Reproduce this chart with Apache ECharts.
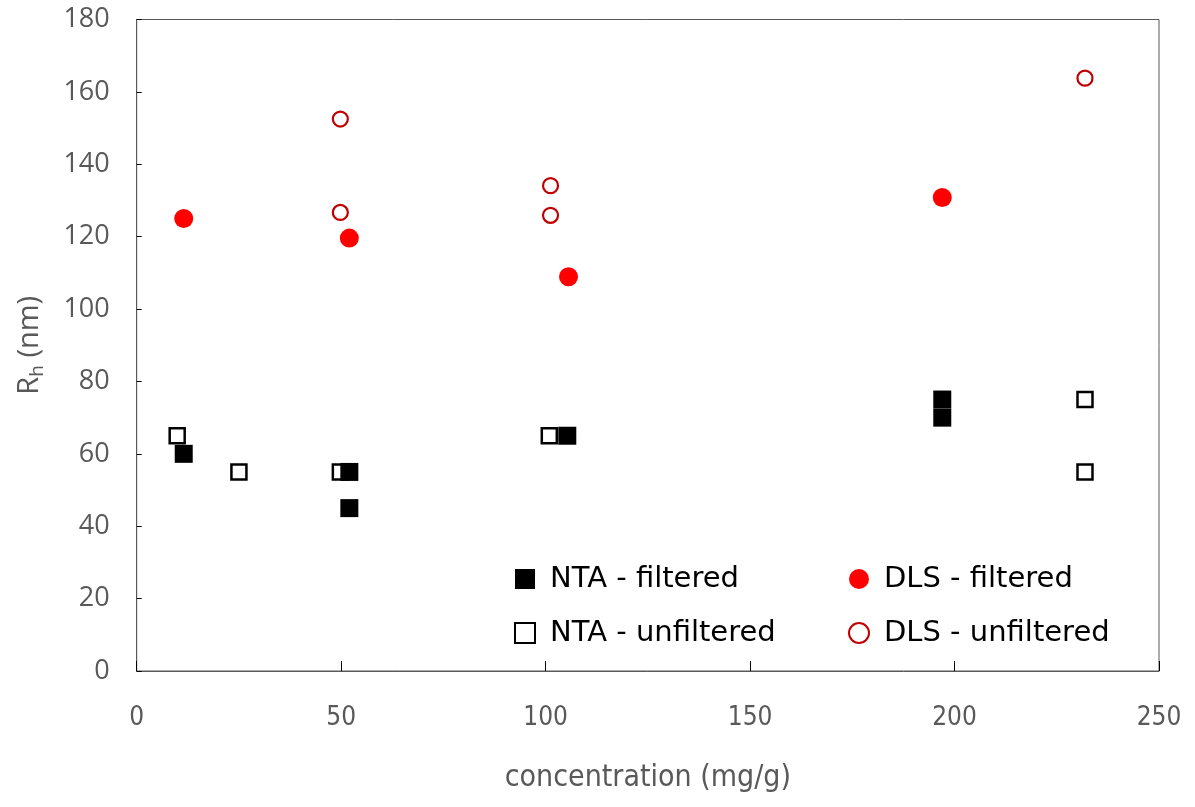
<!DOCTYPE html>
<html>
<head>
<meta charset="utf-8">
<script src="https://cdn.jsdelivr.net/npm/echarts@6/dist/echarts.min.js"></script>
<style>
  html, body { margin: 0; padding: 0; background: #fff; }
  #chart { width: 1195px; height: 807px; }
</style>
</head>
<body>
<div id="chart"></div>
<script>
// Hydrodynamic radius vs. concentration, NTA and DLS, filtered / unfiltered
const ntaFiltered   = [[11.5, 60], [52.0, 55], [52.0, 45], [105.3, 65], [197.0, 70], [197.0, 75]];
const ntaUnfiltered = [[9.9, 65], [25.0, 55], [49.8, 55], [100.9, 65], [231.9, 75], [231.9, 55]];
const dlsFiltered   = [[11.5, 125], [52.0, 119.6], [105.6, 108.9], [197.0, 130.8]];
const dlsUnfiltered = [[49.8, 152.5], [49.8, 126.7], [101.2, 134.1], [101.2, 125.9], [231.9, 163.8]];

const xTicks = [0, 50, 100, 150, 200, 250];
const yTicks = [0, 20, 40, 60, 80, 100, 120, 140, 160, 180];

const condensed = '"DejaVu Sans Condensed", "Liberation Sans Narrow", "Noto Sans", sans-serif';
const grey = '#595959';

const chart = echarts.init(document.getElementById('chart'), null, { renderer: 'canvas' });

const legendText = {
  fontFamily: '"DejaVu Sans", sans-serif', fontSize: 29, lineHeight: 30,
  color: '#000', padding: [0, 0, 0, 10]
};

chart.setOption({
  animation: false,
  backgroundColor: '#ffffff',
  grid: {
    left: 136.7, right: 36, top: 19.5, bottom: 136, containLabel: false,
    show: true, borderColor: grey, borderWidth: 1, backgroundColor: 'transparent'
  },
  xAxis: {
    type: 'value',
    min: xTicks[0], max: xTicks[xTicks.length - 1], interval: 50,
    name: 'concentration (mg/g)',
    nameLocation: 'middle',
    nameGap: 92,
    nameTextStyle: { fontFamily: condensed, fontSize: 30, color: grey },
    axisLine: { show: true, lineStyle: { color: grey, width: 1 } },
    axisTick: { show: true, inside: true, length: 10, lineStyle: { color: '#000' } },
    axisLabel: { fontFamily: condensed, fontSize: 26, color: grey, margin: 34 },
    splitLine: { show: false }
  },
  yAxis: {
    type: 'value',
    min: yTicks[0], max: yTicks[yTicks.length - 1], interval: 20,
    name: '{r|R}{s|h}{r| (nm)}',
    nameLocation: 'middle',
    nameGap: 90,
    nameRotate: 90,
    nameTextStyle: {
      rich: {
        r: { fontFamily: '"Open Sans", sans-serif', fontSize: 29, color: grey },
        s: { fontFamily: '"Open Sans", sans-serif', fontSize: 19, color: grey, verticalAlign: 'bottom', padding: [14, 0, 0, 0] }
      }
    },
    axisLine: { show: true, lineStyle: { color: grey, width: 1 } },
    axisTick: { show: true, inside: true, length: 5, lineStyle: { color: '#000' } },
    axisLabel: { fontFamily: '"Open Sans", sans-serif', fontSize: 27, color: grey, margin: 27 },
    splitLine: { show: false }
  },
  legend: [
    {
      left: 514, top: 564, orient: 'vertical', itemGap: 24, padding: 0,
      itemWidth: 20, itemHeight: 20,
      textStyle: legendText,
      data: ['NTA - filtered', 'NTA - unfiltered']
    },
    {
      left: 848, top: 564, orient: 'vertical', itemGap: 24, padding: 0,
      itemWidth: 20, itemHeight: 20,
      textStyle: legendText,
      data: ['DLS - filtered', 'DLS - unfiltered']
    }
  ],
  series: [
    {
      name: 'NTA - unfiltered', type: 'scatter', data: ntaUnfiltered,
      symbol: 'rect', symbolSize: 15,
      itemStyle: { color: '#fff', borderColor: '#000', borderWidth: 2.5, opacity: 1 }
    },
    {
      name: 'DLS - unfiltered', type: 'scatter', data: dlsUnfiltered,
      symbol: 'circle', symbolSize: 15,
      itemStyle: { color: '#fff', borderColor: '#C00000', borderWidth: 2.2, opacity: 1 }
    },
    {
      name: 'NTA - filtered', type: 'scatter', data: ntaFiltered,
      symbol: 'rect', symbolSize: 18,
      itemStyle: { color: '#000', opacity: 1 }
    },
    {
      name: 'DLS - filtered', type: 'scatter', data: dlsFiltered,
      symbol: 'circle', symbolSize: 19,
      itemStyle: { color: '#FF0000', opacity: 1 }
    }
  ]
});
</script>
</body>
</html>
